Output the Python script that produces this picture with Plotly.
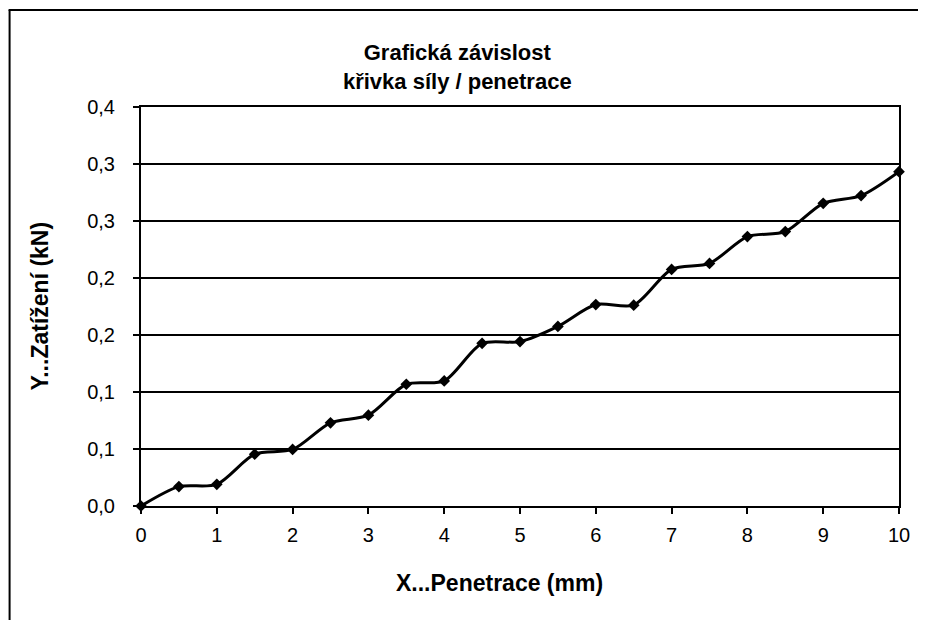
import plotly.graph_objects as go

# Data
penetrace_mm = [0, 0.5, 1, 1.5, 2, 2.5, 3, 3.5, 4, 4.5, 5, 5.5, 6, 6.5, 7, 7.5, 8, 8.5, 9, 9.5, 10]
zatizeni_kN = [0.0, 0.017, 0.019, 0.0455, 0.0496, 0.073, 0.0797, 0.1068, 0.1097, 0.1427, 0.1442,
               0.1575, 0.1767, 0.1762, 0.2075, 0.2128, 0.2363, 0.2407, 0.2655, 0.2723, 0.2933]

y_tickvals = [0, 0.05, 0.1, 0.15, 0.2, 0.25, 0.3, 0.35]
y_ticktext = ["0,0", "0,1", "0,1", "0,2", "0,2", "0,3", "0,3", "0,4"]
x_tickvals = [0, 1, 2, 3, 4, 5, 6, 7, 8, 9, 10]
x_ticktext = ["0", "1", "2", "3", "4", "5", "6", "7", "8", "9", "10"]

OFF = 8  # page body margin
W, H = 926 - OFF, 620 - OFF
L, R, T, B = 140.5 - OFF, 899 - OFF, 107 - OFF, 506 - OFF  # plot area bounds (figure px)


def px(x):
    return (x - OFF - L) / (R - L)


def py(y):
    return (B - (y - OFF)) / (B - T)


FONT = "Liberation Sans, Arial, sans-serif"

fig = go.Figure()
fig.add_trace(go.Scatter(
    x=penetrace_mm, y=zatizeni_kN,
    mode="lines+markers",
    line=dict(color="black", width=3, shape="spline", smoothing=0.8),
    marker=dict(symbol="diamond", size=9, color="black"),
    showlegend=False,
    cliponaxis=False,
))

fig.update_layout(
    width=W, height=H,
    margin=dict(l=L, r=W - R, t=T, b=H - B, pad=0),
    paper_bgcolor="white", plot_bgcolor="white",
    font=dict(family=FONT, color="black", size=20),
    title=dict(
        text="<b>Grafická závislost<br>křivka síly / penetrace</b>",
        x=px(457), xref="paper", xanchor="center",
        y=1 - (60 - OFF) / H, yref="container", yanchor="middle",
        font=dict(family=FONT, size=22, color="black"),
    ),
    xaxis=dict(
        range=[0, 10], tickvals=x_tickvals, ticktext=x_ticktext,
        showgrid=False, zeroline=False,
        showline=True, linecolor="black", linewidth=2, mirror=True,
        ticks="outside", ticklen=6, tickcolor="black", tickwidth=1.5,
        tickfont=dict(family=FONT, size=20), ticklabelstandoff=4,
    ),
    yaxis=dict(
        range=[0, 0.35], tickvals=y_tickvals, ticktext=y_ticktext,
        showgrid=True, gridcolor="black", gridwidth=1.8, zeroline=False,
        showline=True, linecolor="black", linewidth=2, mirror=True,
        ticks="outside", ticklen=6, tickcolor="black", tickwidth=1.5,
        tickfont=dict(family=FONT, size=20), ticklabelstandoff=14,
    ),
    annotations=[
        dict(text="<b>X...Penetrace (mm)</b>", x=px(499), y=py(583), xref="paper", yref="paper",
             showarrow=False, xanchor="center", yanchor="middle", font=dict(family=FONT, size=23)),
        dict(text="<b>Y...Zatížení (kN)</b>", x=px(39), y=py(306), xref="paper", yref="paper",
             showarrow=False, xanchor="center", yanchor="middle", textangle=-90,
             font=dict(family=FONT, size=23)),
    ],
    shapes=[
        dict(type="line", xref="paper", yref="paper", x0=px(8), x1=px(940), y0=py(10), y1=py(10),
             line=dict(color="black", width=2)),
        dict(type="line", xref="paper", yref="paper", x0=px(9), x1=px(9), y0=py(10), y1=py(640),
             line=dict(color="black", width=2)),
    ],
)

fig.write_html("out.html")
